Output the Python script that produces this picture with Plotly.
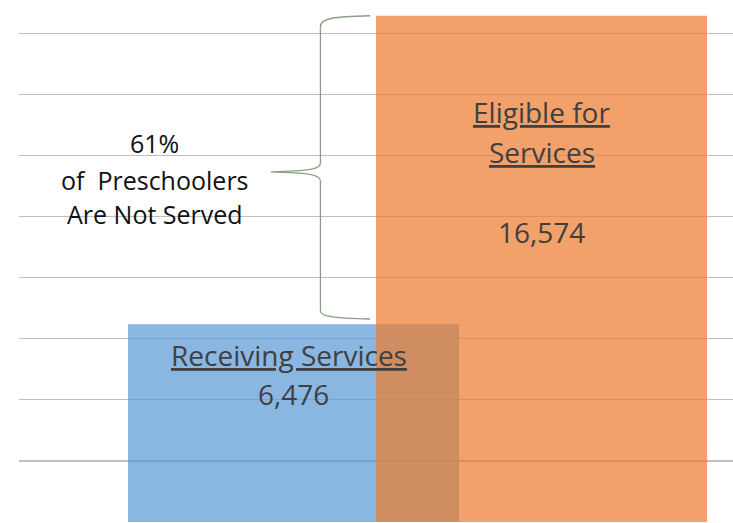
import plotly.graph_objects as go

# ---- data ----
categories = ["Receiving Services", "Eligible for Services"]
values = [6476, 16574]
value_labels = ["6,476", "16,574"]
x_pos = [0, 1]
gap_text = ["61%", "of \u00a0Preschoolers", "Are Not Served"]

# ---- style ----
bar_width = 1.335
bar_colors = ["rgba(91,155,213,0.72)", "rgba(237,125,49,0.72)"]
label_color = "#404040"
font_family = "Open Sans, Noto Sans, sans-serif"
y_max = 17090
y_step = 2000
u = y_max / 522.0  # data units per pixel (vertical)

fig = go.Figure()
for i in range(len(categories)):
    fig.add_trace(go.Bar(
        x=[x_pos[i]], y=[values[i]], width=[bar_width],
        marker=dict(color=bar_colors[i], line=dict(width=0)),
        name=categories[i], hoverinfo="skip", showlegend=False,
    ))

annotations = []
def add_text(x, y, text, size, color):
    annotations.append(dict(x=x, y=y, xref="x", yref="y", text=text, showarrow=False,
                            xanchor="center", yanchor="middle",
                            font=dict(family=font_family, size=size, color=color)))

# blue bar labels
add_text(x_pos[0] - 0.02, values[0] - 31 * u, "<u>Receiving Services</u>", 28, label_color)
add_text(x_pos[0], values[0] - 70 * u, value_labels[0], 28, label_color)
# orange bar labels
add_text(x_pos[1], values[1] - 96 * u, "<u>Eligible for</u>", 28, label_color)
add_text(x_pos[1], values[1] - 136 * u, "<u>Services</u>", 28, label_color)
add_text(x_pos[1], values[1] - 216 * u, value_labels[1], 28, label_color)

# brace geometry derived from bar values
xr = x_pos[1] - bar_width / 2 - 0.024
xv = xr - 0.2
xt = xr - 0.4
yt = values[1]
yb = values[0] + 170
ym = (yt + yb) / 2 - 150

# left text next to brace tip
left_x = xt - 0.468
add_text(left_x, ym + 28.7 * u, gap_text[0], 25, "#111111")
add_text(left_x, ym - 8.3 * u, gap_text[1], 25, "#111111")
add_text(left_x, ym - 42 * u, gap_text[2], 25, "#111111")

path = (f"M {xr},{yt} C {xr-0.14},{yt-1*u} {xv},{yt-2*u} {xv},{yt-11*u} "
        f"L {xv},{ym+9*u} C {xv},{ym+2*u} {xv-0.06},{ym+1*u} {xt},{ym} "
        f"C {xv-0.06},{ym-1*u} {xv},{ym-2*u} {xv},{ym-9*u} "
        f"L {xv},{yb+8*u} C {xv},{yb+2*u} {xr-0.14},{yb+1*u} {xr},{yb}")

fig.update_layout(
    width=733, height=523,
    margin=dict(l=19, r=0, t=0, b=1, pad=0),
    barmode="overlay",
    plot_bgcolor="white", paper_bgcolor="white",
    xaxis=dict(range=[-1.107, 1.772], showgrid=False, zeroline=False,
               showticklabels=False, ticks="", showline=False, fixedrange=True),
    yaxis=dict(range=[0, y_max], tick0=0, dtick=y_step, showgrid=True,
               gridcolor="#BFBFBF", gridwidth=1.2, zeroline=False,
               showticklabels=False, ticks="", showline=False, fixedrange=True),
    annotations=annotations,
    shapes=[dict(type="path", path=path, xref="x", yref="y",
                 line=dict(color="#8A9F86", width=1.3), fillcolor="rgba(0,0,0,0)")],
)

fig.write_html("out.html", config={"displayModeBar": False, "staticPlot": True},
               post_script="document.body.style.margin='0';document.body.style.overflow='hidden';")
